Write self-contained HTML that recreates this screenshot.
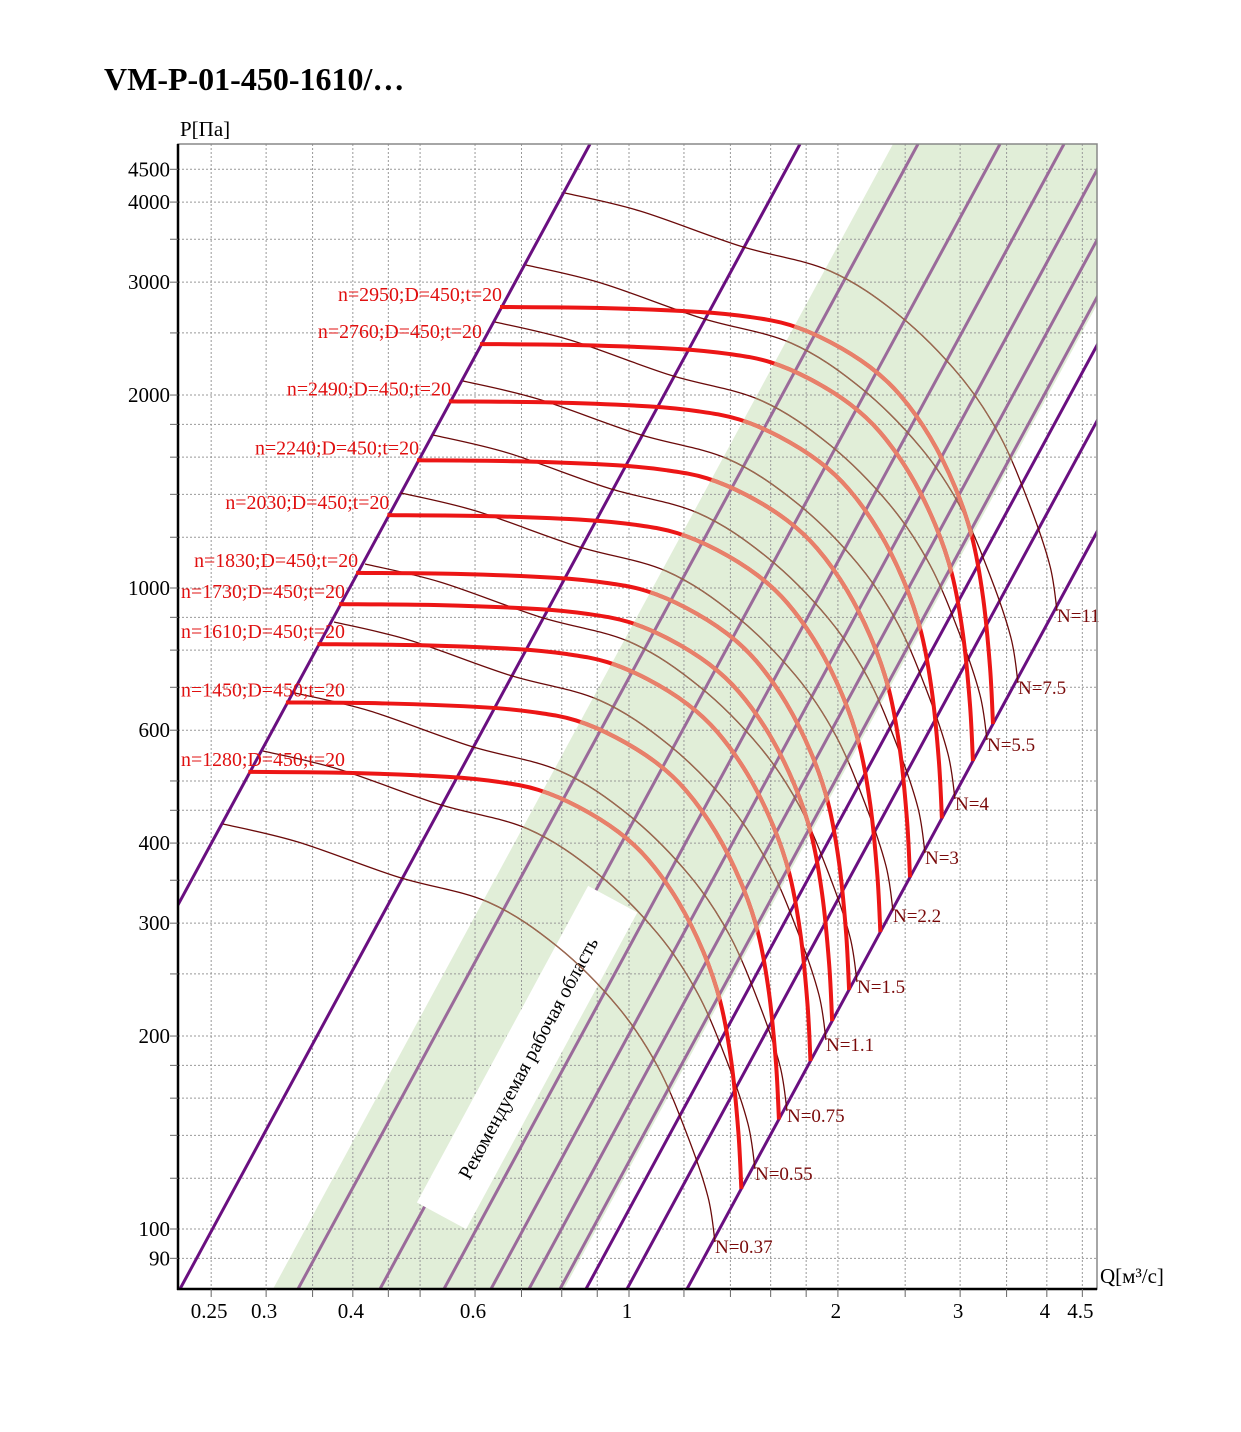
<!DOCTYPE html>
<html><head><meta charset="utf-8">
<style>
html,body{margin:0;padding:0;background:#fff;}
svg{display:block;font-family:"Liberation Serif",serif;}
</style></head>
<body>
<svg id="s" width="1241" height="1432" xmlns="http://www.w3.org/2000/svg">
<defs>
<clipPath id="plot"><rect x="178" y="144" width="919" height="1145"/></clipPath>
<clipPath id="band"><polygon points="273,1289 564,1289 1184,144 893,144"/></clipPath>
</defs>
<rect width="1241" height="1432" fill="#fff"/>
<text x="104" y="90" font-size="32" font-weight="bold" fill="#000">VM-P-01-450-1610/…</text>
<text x="180" y="136" font-size="21" fill="#000">P[Па]</text>
<text x="1100" y="1283" font-size="21" fill="#000">Q[м³/с]</text>
<g id="g"></g>
</svg>
<script>
const NS="http://www.w3.org/2000/svg";
const g=document.getElementById('g');
function el(t,a,p){const e=document.createElementNS(NS,t);for(const k in a)e.setAttribute(k,a[k]);(p||g).appendChild(e);return e;}
const X=q=>629+694*Math.log10(q), Y=p=>588-641*Math.log10(p/1000);
const L=178,R=1097,T=144,B=1289;
el('polygon',{points:"273,1289 564,1289 1184,144 893,144",fill:"#e1eed8","clip-path":"url(#plot)"});
const xs=[0.25,0.3,0.35,0.4,0.45,0.5,0.6,0.7,0.8,0.9,1,1.2,1.4,1.6,1.8,2,2.5,3,3.5,4,4.5];
xs.forEach(q=>{const x=X(q);el('line',{x1:x,x2:x,y1:T,y2:B,stroke:"#999","stroke-width":1,"stroke-dasharray":"2,2"});});
const ys=[90,100,120,140,160,180,200,250,300,350,400,450,500,600,700,800,900,1000,1200,1400,1600,1800,2000,2500,3000,3500,4000,4500];
ys.forEach(p=>{const y=Y(p);el('line',{x1:L,x2:R,y1:y,y2:y,stroke:"#999","stroke-width":1,"stroke-dasharray":"2,2"});});
function diag(b,col,w){el('line',{x1:b,y1:B,x2:b+620,y2:T,stroke:col,"stroke-width":w,"clip-path":"url(#plot)"});}
[298,380,444,491,529,560].forEach(b=>diag(b,"#9a6a9a",3));
[-30,180,586,627,687].forEach(b=>diag(b,"#6a0f80",3));
const bx=el('g',{transform:"translate(528,1058) rotate(-61.6)"});
el('rect',{x:-180,y:-29,width:360,height:56,fill:"#fff"},bx);
el('text',{x:0,y:7,"text-anchor":"middle","font-size":"20",fill:"#000"},bx).textContent="Рекомендуемая рабочая область";
const thin=[[0,0],[75,18],[175,53],[265,78],[335,123],[395,183],[435,243],[465,313],[485,373],[492,418]];
const Ns=[["11",1057,615],["7.5",1018,687],["5.5",987,744],["4",955,803],["3",925,857],["2.2",893,915],["1.5",857,986],["1.1",826,1044],["0.75",787,1115],["0.55",755,1173],["0.37",715,1246]];
function smooth(pts){let d="M"+pts[0][0]+","+pts[0][1];
 for(let i=0;i<pts.length-1;i++){const p0=pts[Math.max(0,i-1)],p1=pts[i],p2=pts[i+1],p3=pts[Math.min(pts.length-1,i+2)];
  const c1=[p1[0]+(p2[0]-p0[0])/6,p1[1]+(p2[1]-p0[1])/6],c2=[p2[0]-(p3[0]-p1[0])/6,p2[1]-(p3[1]-p1[1])/6];
  d+=" C"+c1.join(",")+" "+c2.join(",")+" "+p2.join(",");}
 return d;}
Ns.forEach(n=>{const ex=n[1],ey=n[2]-4;const d=smooth(thin.map(p=>[ex-492+p[0],ey-418+p[1]]));
 el('path',{d:d,fill:"none",stroke:"#6b0a0a","stroke-width":1.3,"clip-path":"url(#plot)"});
 el('path',{d:d,fill:"none",stroke:"#9a6a50","stroke-width":1.3,"clip-path":"url(#band)"});
 el('text',{x:n[1],y:n[2]+7,"font-size":"19",fill:"#7a0a0a"}).textContent="N="+n[0];
});
const thick=[[0,0],[100,1],[200,5],[250,10],[290,18],[330,35],[370,60],[400,88],[430,130],[455,180],[472,230],[483,290],[490,360],[493,417]];
[2950,2760,2490,2240,2030,1830,1730,1610,1450,1280].forEach(n=>{
 const r=Math.log10(n/2950);const sx=500+694*r, sy=307-1282*r;
 const d=smooth(thick.map(p=>[sx+p[0],sy+p[1]]));
 el('path',{d:d,fill:"none",stroke:"#ec1616","stroke-width":4});
 el('path',{d:d,fill:"none",stroke:"#e8806a","stroke-width":4,"clip-path":"url(#band)"});
 const tx=Math.max(181,sx+2-164);
 el('text',{x:tx,y:sy-6,"font-size":"19.5",fill:"#e01010",textLength:"164",lengthAdjust:"spacingAndGlyphs"}).textContent="n="+n+";D=450;t=20";
});
el('rect',{x:L,y:T,width:R-L,height:B-T,fill:"none",stroke:"#888","stroke-width":1.5});
el('line',{x1:L,y1:T,x2:L,y2:B+1,stroke:"#000","stroke-width":2.5});
el('line',{x1:L-1,y1:B,x2:R,y2:B,stroke:"#000","stroke-width":2.5});
xs.forEach(q=>{const x=X(q);el('line',{x1:x,x2:x,y1:B,y2:B+8,stroke:"#666","stroke-width":1});});
[["0.25",0.25],["0.3",0.3],["0.4",0.4],["0.6",0.6],["1",1],["2",2],["3",3],["4",4],["4.5",4.5]].forEach(t=>{
 el('text',{x:X(t[1])-2,y:1318,"text-anchor":"middle","font-size":"21",fill:"#000"}).textContent=t[0];});
ys.forEach(p=>{const y=Y(p);el('line',{x1:L-8,x2:L,y1:y,y2:y,stroke:"#666","stroke-width":1});});
[90,100,200,300,400,600,1000,2000,3000,4000,4500].forEach(p=>{
 el('text',{x:170,y:Y(p)+7,"text-anchor":"end","font-size":"21",fill:"#000"}).textContent=p;});
</script>
</body></html>
